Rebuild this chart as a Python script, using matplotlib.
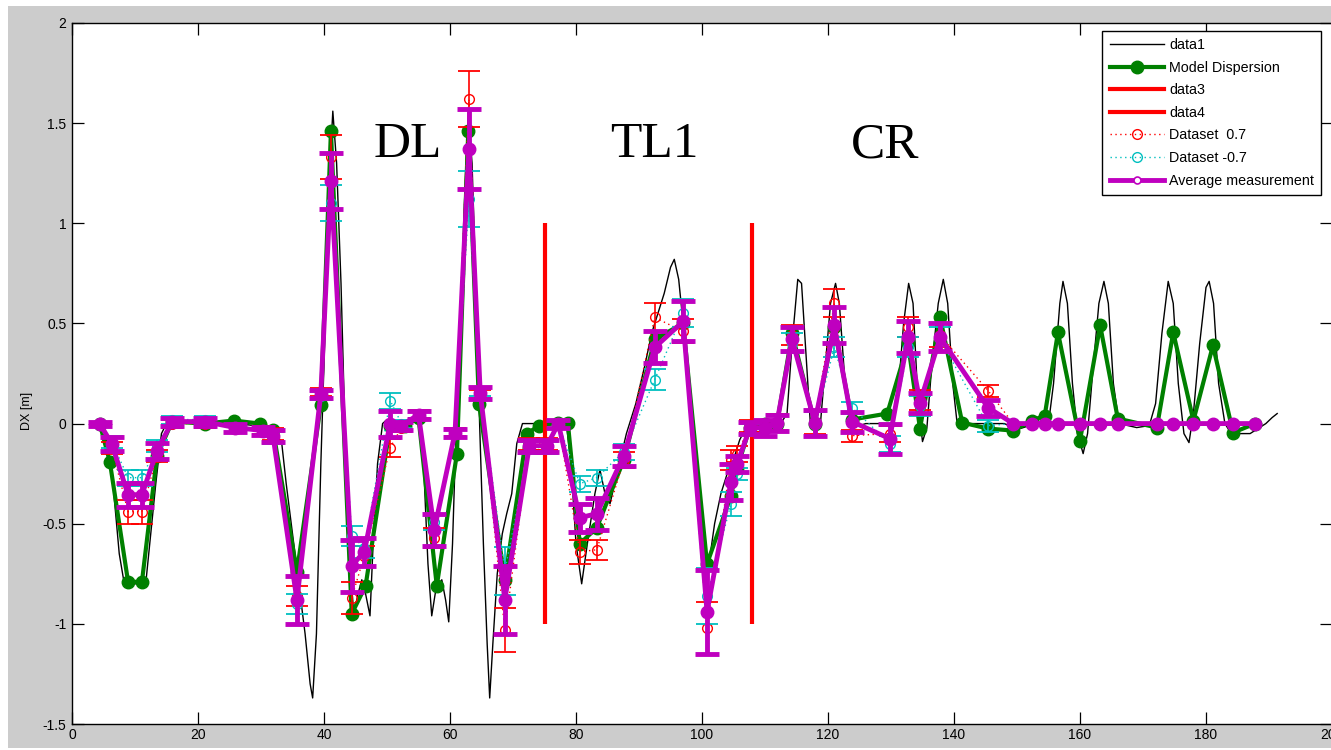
import matplotlib
matplotlib.use('Agg')
import matplotlib.pyplot as plt
from matplotlib.lines import Line2D
from matplotlib.patches import Rectangle

# ---------------- data ----------------
# fine model dispersion curve (data1)
curve_x = [4.4, 5.5, 6.5, 7.5, 8.3, 11.7, 12.5, 13.3, 14.2, 15, 18, 22, 26, 29, 31, 32.5, 33.3, 34, 35, 36, 37,
           37.8, 38.2, 38.8, 39.5, 40.2, 40.8, 41.4, 42, 42.7, 43.3, 44, 44.7, 45.4, 46, 46.6, 47.3, 47.8, 48.5,
           49.3, 50, 53, 55, 55.8, 56.5, 57.1, 57.8, 58.7, 59.3, 59.8, 60.4, 61, 61.8, 62.4, 62.9, 63.5, 64, 64.7,
           65.3, 65.9, 66.3, 66.8, 67.5, 68.3, 69, 69.8, 70.6, 71.5, 73, 77, 78.5, 79.2, 80, 80.9, 81.8, 83, 83.8,
           84.6, 85.4, 86.5, 88, 89.5, 91, 92, 93, 94, 95, 95.6, 96.3, 97, 98, 99, 99.8, 100.5, 101.1, 102, 103,
           104, 105, 106, 107, 108, 112.5, 113.5, 114.3, 115.2, 115.8, 116.5, 117.2, 118, 118.8, 119.6, 120.4,
           121.2, 121.8, 122.6, 123.4, 124, 126, 130, 131, 132, 132.8, 133.5, 134.3, 135, 135.7, 136.5, 137.5,
           138.3, 139, 139.8, 140.5, 141.5, 143, 148, 150, 153, 155, 155.8, 156.8, 157.3, 158, 158.8, 159.6, 160.5,
           161.2, 162, 163, 163.8, 164.5, 165.3, 166.2, 169, 171, 172, 173, 174, 174.8, 175.6, 176.5, 177.3, 178,
           179, 180, 180.5, 181.2, 182, 183, 184, 187, 188.5, 189.5, 190.5, 191.3]
curve_y = [0, -0.08, -0.3, -0.65, -0.8, -0.8, -0.55, -0.3, -0.05, 0.0, 0.01, 0.01, 0.0, -0.01, -0.02, -0.05, -0.1,
           -0.3, -0.55, -0.8, -1.05, -1.3, -1.37, -1.05, -0.2, 0.5, 1.2, 1.56, 1.3, 0.7, 0.0, -0.6, -0.96, -0.85,
           -0.78, -0.85, -0.96, -0.6, -0.2, 0.0, 0.02, 0.0, 0.02, -0.2, -0.7, -0.96, -0.82, -0.78, -0.88, -0.99,
           -0.6, 0.0, 0.6, 1.2, 1.55, 1.3, 0.8, 0.0, -0.6, -1.1, -1.37, -1.1, -0.75, -0.55, -0.45, -0.35, -0.1,
           0.0, 0.0, 0.0, -0.01, -0.2, -0.6, -0.8, -0.6, -0.35, -0.23, -0.35, -0.4, -0.25, -0.05, 0.1, 0.3, 0.45,
           0.55, 0.65, 0.78, 0.82, 0.72, 0.5, 0.15, -0.2, -0.55, -0.82, -0.7, -0.5, -0.35, -0.25, -0.18, -0.08,
           -0.02, 0.0, 0.0, 0.05, 0.4, 0.72, 0.7, 0.35, 0.0, -0.05, 0.0, 0.3, 0.6, 0.7, 0.6, 0.25, 0.02, -0.02,
           0.0, 0.0, 0.1, 0.5, 0.7, 0.6, 0.1, -0.09, -0.02, 0.3, 0.6, 0.72, 0.6, 0.2, 0.0, -0.02, 0.0, 0.0, -0.03,
           0.0, 0.0, 0.2, 0.6, 0.71, 0.6, 0.2, -0.05, -0.15, -0.05, 0.25, 0.6, 0.71, 0.6, 0.2, 0.0, -0.02, -0.01,
           0.1, 0.45, 0.71, 0.6, 0.2, -0.05, -0.095, 0.05, 0.4, 0.68, 0.71, 0.6, 0.2, 0.0, -0.05, -0.05, -0.02,
           0.0, 0.03, 0.05]

# model dispersion at BPMs
model_x = [4.4, 6.0, 8.9, 11.1, 13.5, 15.9, 21.1, 25.7, 29.8, 31.9, 35.7, 39.5, 41.1, 44.4, 46.6, 50.5, 52.9,
           55.0, 57.9, 61.1, 62.9, 64.6, 68.7, 72.2, 74.2, 77.2, 78.7, 80.6, 83.3, 87.6, 92.5, 97.0, 100.8, 104.6,
           105.6, 107.6, 110.0, 111.9, 114.3, 117.9, 121.0, 123.8, 129.4, 132.7, 134.6, 137.8, 141.3, 145.4, 149.4,
           152.4, 154.4, 156.5, 160.0, 163.2, 166.0, 172.2, 174.8, 178.0, 181.1, 184.3, 187.8]
model_y = [0.0, -0.19, -0.79, -0.79, -0.16, 0.01, 0.0, 0.015, 0.0, -0.03, -0.74, 0.095, 1.46, -0.95, -0.81, -0.01,
           -0.01, 0.03, -0.81, -0.15, 1.46, 0.10, -0.78, -0.05, -0.01, 0.005, 0.005, -0.60, -0.52, -0.18, 0.42,
           0.50, -0.70, -0.36, -0.22, -0.02, 0.0, 0.0, 0.45, 0.0, 0.48, 0.02, 0.05, 0.40, -0.025, 0.53, 0.005,
           -0.025, -0.035, 0.015, 0.04, 0.455, -0.085, 0.49, 0.025, -0.02, 0.455, 0.015, 0.39, -0.045, 0.0]

# measurement BPMs
meas_x = [4.4, 6.3, 8.9, 11.1, 13.5, 15.9, 21.1, 25.9, 30.3, 31.9, 35.7, 39.5, 41.1, 44.4, 46.4, 50.5, 52.3, 55.0,
          57.5, 60.8, 63.0, 64.8, 68.7, 72.6, 75.4, 77.2, 80.6, 83.3, 87.6, 92.5, 97.0, 100.8, 104.6, 105.6, 107.6,
          110.0, 111.9, 114.3, 117.9, 121.0, 123.8, 129.8, 132.7, 134.6, 137.8, 145.4,
          149.4, 152.4, 154.4, 156.5, 160.0, 163.2, 166.0, 172.2, 174.8, 178.0, 181.1, 184.3, 187.8]

# Dataset 0.7 (red)
dsp_y = [0.0, -0.12, -0.44, -0.44, -0.16, 0.0, 0.0, -0.02, -0.03, -0.05, -0.86, 0.16, 1.33, -0.87, -0.66, -0.12,
         -0.02, 0.05, -0.57, -0.04, 1.62, 0.15, -1.03, -0.10, -0.10, 0.0, -0.64, -0.63, -0.18, 0.53, 0.46, -1.02,
         -0.18, -0.15, -0.01, -0.01, 0.01, 0.44, 0.01, 0.60, -0.06, -0.05, 0.48, 0.12, 0.44, 0.165,
         0, 0, 0, 0, 0, 0, 0, 0, 0, 0, 0, 0, 0]
dsp_err = [0.01, 0.03, 0.06, 0.06, 0.03, 0.02, 0.02, 0.02, 0.02, 0.03, 0.05, 0.02, 0.11, 0.08, 0.05, 0.045, 0.02,
           0.02, 0.05, 0.02, 0.14, 0.02, 0.11, 0.03, 0.03, 0.02, 0.06, 0.05, 0.04, 0.07, 0.06, 0.13, 0.05, 0.04,
           0.03, 0.03, 0.04, 0.05, 0.06, 0.07, 0.03, 0.04, 0.05, 0.05, 0.06, 0.03]

# Dataset -0.7 (cyan)
dsm_y = [0.0, -0.09, -0.27, -0.27, -0.11, 0.02, 0.02, -0.02, -0.04, -0.07, -0.90, 0.14, 1.10, -0.56, -0.62, 0.115,
         0.0, 0.04, -0.49, -0.05, 1.12, 0.16, -0.735, -0.12, -0.12, 0.0, -0.30, -0.27, -0.14, 0.22, 0.55, -0.86,
         -0.40, -0.25, -0.03, -0.03, 0.0, 0.40, 0.0, 0.38, 0.08, -0.10, 0.38, 0.09, 0.42, -0.01,
         0, 0, 0, 0, 0, 0, 0, 0, 0, 0, 0, 0, 0]
dsm_err = [0.01, 0.03, 0.04, 0.04, 0.03, 0.02, 0.02, 0.02, 0.02, 0.03, 0.05, 0.02, 0.09, 0.05, 0.05, 0.04, 0.02,
           0.02, 0.04, 0.02, 0.14, 0.02, 0.12, 0.03, 0.03, 0.02, 0.04, 0.04, 0.04, 0.05, 0.07, 0.14, 0.06, 0.03,
           0.03, 0.03, 0.04, 0.05, 0.06, 0.05, 0.03, 0.04, 0.05, 0.05, 0.06, 0.03]

# Average measurement (magenta)
avg_y = [0.0, -0.10, -0.355, -0.355, -0.135, 0.01, 0.01, -0.02, -0.035, -0.06, -0.88, 0.15, 1.21, -0.71, -0.64,
         0.0, -0.01, 0.045, -0.53, -0.045, 1.37, 0.155, -0.88, -0.11, -0.11, 0.0, -0.47, -0.45, -0.16, 0.38, 0.51,
         -0.94, -0.29, -0.20, -0.02, -0.02, 0.005, 0.42, 0.005, 0.49, 0.01, -0.075, 0.43, 0.105, 0.43, 0.08,
         0, 0, 0, 0, 0, 0, 0, 0, 0, 0, 0, 0, 0]
avg_err = [0.01, 0.035, 0.06, 0.06, 0.04, 0.02, 0.02, 0.02, 0.02, 0.03, 0.12, 0.02, 0.14, 0.13, 0.07, 0.065, 0.02,
           0.02, 0.08, 0.02, 0.20, 0.03, 0.17, 0.03, 0.03, 0.02, 0.07, 0.08, 0.05, 0.08, 0.10, 0.21, 0.09, 0.04,
           0.03, 0.04, 0.04, 0.06, 0.065, 0.09, 0.05, 0.075, 0.08, 0.05, 0.07, 0.04]

section_bounds = [75, 108]
section_span = (-1, 1)
section_names = ['DL', 'TL1', 'CR']
section_label_x = [53.3, 92.5, 129.0]
section_label_y = 1.39

xticks = [0, 20, 40, 60, 80, 100, 120, 140, 160, 180, 200]
xticklabels = ['0', '20', '40', '60', '80', '100', '120', '140', '160', '180', '200']
yticks = [-1.5, -1, -0.5, 0, 0.5, 1, 1.5, 2]
yticklabels = ['-1.5', '-1', '-0.5', '0', '0.5', '1', '1.5', '2']

legend_labels = ['data1', 'Model Dispersion', 'data3', 'data4', 'Dataset  0.7', 'Dataset -0.7',
                 'Average measurement']

# ---------------- style ----------------
GREEN = '#008000'
MAG = '#bf00bf'
RED = '#ff0000'
CYAN = '#00bfbf'
plt.rcParams['font.family'] = ['Liberation Sans', 'DejaVu Sans']

W, H = 1331, 750
fig = plt.figure(figsize=(W / 100, H / 100), dpi=100, facecolor='white')
fig.patches.append(Rectangle((8 / W, 2 / H), 1, 1 - 8 / H, transform=fig.transFigure,
                             facecolor='#cccccc', edgecolor='none', zorder=-10))
ax = fig.add_axes([72 / W, 26 / H, 1260 / W, 701 / H])
ax.set_facecolor('white')

n_err = len(avg_err)

ax.plot(curve_x, curve_y, color='black', lw=1.0, zorder=2)
ax.plot(model_x, model_y, color=GREEN, lw=3.0, marker='o', ms=9, zorder=3)
ax.vlines(section_bounds, section_span[0], section_span[1], colors=RED, lw=3.0, zorder=3)

# datasets
for yv, ev, col, z in [(dsp_y, dsp_err, RED, 4), (dsm_y, dsm_err, CYAN, 4.1)]:
    ax.plot(meas_x, yv, color=col, lw=1.0, ls=(0, (1, 2.5)), marker='o', mfc='none', mec=col,
            ms=7, mew=1.0, zorder=z)
    ax.errorbar(meas_x[:n_err], yv[:n_err], yerr=ev, fmt='none', ecolor=col, elinewidth=1.2,
                capsize=8, capthick=1.3, zorder=z)

ax.errorbar(meas_x[:n_err], avg_y[:n_err], yerr=avg_err, fmt='none', ecolor=MAG, elinewidth=3.5,
            capsize=8.5, capthick=3.5, zorder=6)
ax.plot(meas_x, avg_y, color=MAG, lw=3.5, marker='o', ms=9, mfc=MAG, mec=MAG, zorder=6)

for name, lx in zip(section_names, section_label_x):
    ax.text(lx, section_label_y, name, family=['Liberation Serif', 'DejaVu Serif'], fontsize=37,
            ha='center', va='center', zorder=7)

ax.set_xlim(0, 200)
ax.set_ylim(-1.5, 2)
ax.set_xticks(xticks)
ax.set_xticklabels(xticklabels)
ax.set_yticks(yticks)
ax.set_yticklabels(yticklabels)
ax.tick_params(direction='in', length=8.5, width=0.9, top=True, right=True, labelsize=10,
               colors='black')
ax.tick_params(axis='x', pad=3)
ax.tick_params(axis='y', pad=4)
for s in ax.spines.values():
    s.set_linewidth(1.0)
ax.set_ylabel('DX [m]', fontsize=9)
ax.yaxis.set_label_coords(-0.031, 0.4465)

handles = [
    Line2D([], [], color='black', lw=1.0),
    Line2D([], [], color=GREEN, lw=3.0, marker='o', ms=9),
    Line2D([], [], color=RED, lw=3.0),
    Line2D([], [], color=RED, lw=3.0),
    Line2D([], [], color=RED, lw=1.0, ls=(0, (1, 2.5)), marker='o', mfc='none', ms=7),
    Line2D([], [], color=CYAN, lw=1.0, ls=(0, (1, 2.5)), marker='o', mfc='none', ms=7),
    Line2D([], [], color=MAG, lw=3.5, marker='o', mfc='white', ms=5, mew=1.2),
]
leg = ax.legend(handles, legend_labels, loc='upper right', bbox_to_anchor=(1321 / W, 1 - 31 / H),
                bbox_transform=fig.transFigure, fontsize=10.3, frameon=True, fancybox=False,
                edgecolor='black', framealpha=1, borderpad=0.5, labelspacing=0.6, handlelength=3.8,
                handletextpad=0.35, borderaxespad=0)
leg.get_frame().set_linewidth(1.0)
leg.set_zorder(10)

fig.savefig('out.png', dpi=100, facecolor=fig.get_facecolor())
